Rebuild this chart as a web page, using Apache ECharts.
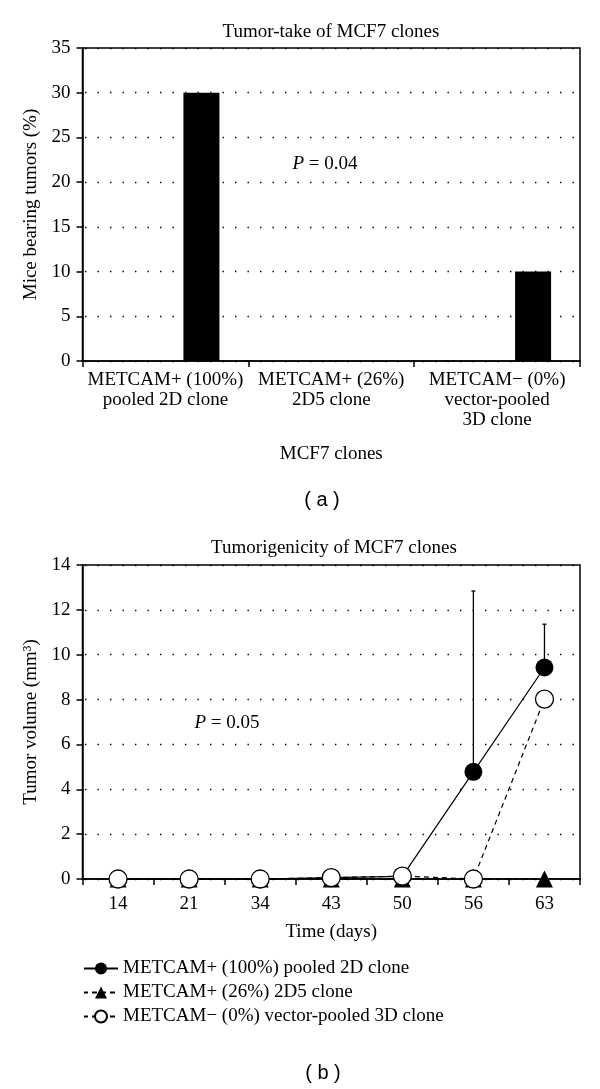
<!DOCTYPE html>
<html><head><meta charset="utf-8">
<script src="https://cdn.jsdelivr.net/npm/echarts@6/dist/echarts.min.js"></script>
<style>html,body{margin:0;padding:0;background:#fff}#c{width:600px;height:1089px}</style>
</head><body><div id="c"></div>
<script>
// ---- data ----
const cloneLabels = ['METCAM+ (100%)\npooled 2D clone', 'METCAM+ (26%)\n2D5 clone', 'METCAM\u2212 (0%)\nvector-pooled\n3D clone'];
const tumorTakePercent = [30, 0, 10];
const days = ['14', '21', '34', '43', '50', '56', '63'];
const volPooled2D = [0, 0, 0, 0.06, 0.12, 4.78, 9.43];
const volPooled2DUpper = [null, null, null, null, null, 12.84, 11.36];
const vol2D5 = [0, 0, 0, 0, 0, 0, 0];
const volVector3D = [0, 0, 0, 0.06, 0.13, 0, 8.02];
const seriesNames = ['METCAM+ (100%) pooled 2D clone', 'METCAM+ (26%) 2D5 clone', 'METCAM\u2212 (0%) vector-pooled 3D clone'];

const SERIF = 'Liberation Serif';
const SANS = 'Liberation Sans';
const FS = 19;

const errData = [];
volPooled2DUpper.forEach((u, i) => { if (u != null) errData.push([i, volPooled2D[i], u]); });

const dotted = { color: '#000', width: 1.3, type: [1.4, 11.1], dashOffset: 10 };
const axisLine = { show: true, lineStyle: { color: '#000', width: 1.5 } };
const labelStyle = { color: '#000', fontFamily: SERIF, fontSize: FS };

const chart = echarts.init(document.getElementById('c'), null, { renderer: 'canvas' });
chart.setOption({
  animation: false,
  backgroundColor: '#fff',
  grid: [
    { left: 82.5, right: 20, top: 48, height: 313, show: true, borderColor: '#000', borderWidth: 1.5, containLabel: false },
    { left: 82.5, right: 20, top: 565, height: 314, show: true, borderColor: '#000', borderWidth: 1.5, containLabel: false }
  ],
  xAxis: [
    { type: 'category', gridIndex: 0, data: cloneLabels, axisLine,
      axisTick: { show: true, length: 6, interval: 0, lineStyle: { color: '#000', width: 1.5 } },
      axisLabel: Object.assign({ interval: 0, margin: 9, lineHeight: 20 }, labelStyle),
      name: 'MCF7 clones', nameLocation: 'middle', nameGap: 84, nameTextStyle: labelStyle },
    { type: 'category', gridIndex: 1, data: days, axisLine,
      axisTick: { show: true, length: 6, interval: 0, lineStyle: { color: '#000', width: 1.5 } },
      axisLabel: Object.assign({ interval: 0, margin: 16 }, labelStyle),
      name: 'Time (days)', nameLocation: 'middle', nameGap: 44, nameTextStyle: labelStyle }
  ],
  yAxis: [
    { type: 'value', gridIndex: 0, min: 0, max: 35, interval: 5, axisLine,
      axisTick: { show: true, length: 6, lineStyle: { color: '#000', width: 1.5 } },
      axisLabel: Object.assign({ margin: 12 }, labelStyle),
      splitLine: { show: true, lineStyle: dotted },
      name: 'Mice bearing tumors (%)', nameLocation: 'middle', nameGap: 40, nameRotate: 90, nameTextStyle: labelStyle },
    { type: 'value', gridIndex: 1, min: 0, max: 14, interval: 2, axisLine,
      axisTick: { show: true, length: 6, lineStyle: { color: '#000', width: 1.5 } },
      axisLabel: Object.assign({ margin: 12 }, labelStyle),
      splitLine: { show: true, lineStyle: dotted },
      name: 'Tumor volume (mm\u00b3)', nameLocation: 'middle', nameGap: 42, nameRotate: 90, nameTextStyle: labelStyle }
  ],
  legend: {
    data: seriesNames, orient: 'vertical', left: 78, top: 954,
    itemWidth: 34, itemHeight: 15, itemGap: 5, selectedMode: false,
    textStyle: { color: '#000', fontFamily: SERIF, fontSize: FS }
  },
  series: [
    { type: 'bar', name: 'spacer', xAxisIndex: 0, yAxisIndex: 0, data: cloneLabels.map(() => null), barWidth: 36, barGap: '100%', silent: true },
    { type: 'bar', name: 'Tumor-take', xAxisIndex: 0, yAxisIndex: 0, data: tumorTakePercent, barWidth: 36, barGap: '100%',
      itemStyle: { color: '#000' }, silent: true },
    { type: 'custom', name: 'err', xAxisIndex: 1, yAxisIndex: 1, data: errData, z: 2, silent: true, clip: false,
      encode: { x: 0, y: [1, 2] },
      renderItem: function (params, api) {
        const p0 = api.coord([api.value(0), api.value(1)]);
        const p1 = api.coord([api.value(0), api.value(2)]);
        return { type: 'group', children: [
          { type: 'line', shape: { x1: p0[0], y1: p0[1], x2: p1[0], y2: p1[1] }, style: { stroke: '#000', lineWidth: 1.3 } },
          { type: 'line', shape: { x1: p1[0] - 2, y1: p1[1], x2: p1[0] + 2, y2: p1[1] }, style: { stroke: '#000', lineWidth: 1.3 } }
        ] };
      } },
    { type: 'line', name: seriesNames[1], xAxisIndex: 1, yAxisIndex: 1, data: vol2D5, z: 3, clip: false,
      symbol: 'triangle', symbolSize: 17, showAllSymbol: true,
      itemStyle: { color: '#000' }, lineStyle: { color: '#000', width: 1.2, type: [5, 4] }, silent: true },
    { type: 'line', name: seriesNames[0], xAxisIndex: 1, yAxisIndex: 1, data: volPooled2D, z: 4, clip: false,
      symbol: 'circle', symbolSize: 18, showAllSymbol: true,
      itemStyle: { color: '#000' }, lineStyle: { color: '#000', width: 1.2 }, silent: true },
    { type: 'line', name: seriesNames[2], xAxisIndex: 1, yAxisIndex: 1, data: volVector3D, z: 5, clip: false,
      symbol: 'circle', symbolSize: 18, showAllSymbol: true,
      itemStyle: { color: '#fff', borderColor: '#000', borderWidth: 1.3 }, lineStyle: { color: '#000', width: 1.2, type: [5, 4] }, silent: true }
  ],
  graphic: [
    { type: 'text', style: { text: 'Tumor-take of MCF7 clones', x: 331, y: 32, align: 'center', verticalAlign: 'middle', fontFamily: SERIF, fontSize: FS, fill: '#000' } },
    { type: 'text', style: { text: 'Tumorigenicity of MCF7 clones', x: 334, y: 548, align: 'center', verticalAlign: 'middle', fontFamily: SERIF, fontSize: FS, fill: '#000' } },
    { type: 'text', style: { text: '{i|P} = 0.04', x: 325, y: 164, align: 'center', verticalAlign: 'middle', fontFamily: SERIF, fontSize: FS, fill: '#000',
      rich: { i: { fontStyle: 'italic', fontFamily: SERIF, fontSize: FS, fill: '#000' } } } },
    { type: 'text', style: { text: '{i|P} = 0.05', x: 227, y: 723, align: 'center', verticalAlign: 'middle', fontFamily: SERIF, fontSize: FS, fill: '#000',
      rich: { i: { fontStyle: 'italic', fontFamily: SERIF, fontSize: FS, fill: '#000' } } } },
    { type: 'text', style: { text: '( a )', x: 322, y: 500, align: 'center', verticalAlign: 'middle', fontFamily: SANS, fontSize: 20, fill: '#000' } },
    { type: 'text', style: { text: '( b )', x: 323, y: 1073, align: 'center', verticalAlign: 'middle', fontFamily: SANS, fontSize: 20, fill: '#000' } }
  ]
});
</script>
</body></html>
